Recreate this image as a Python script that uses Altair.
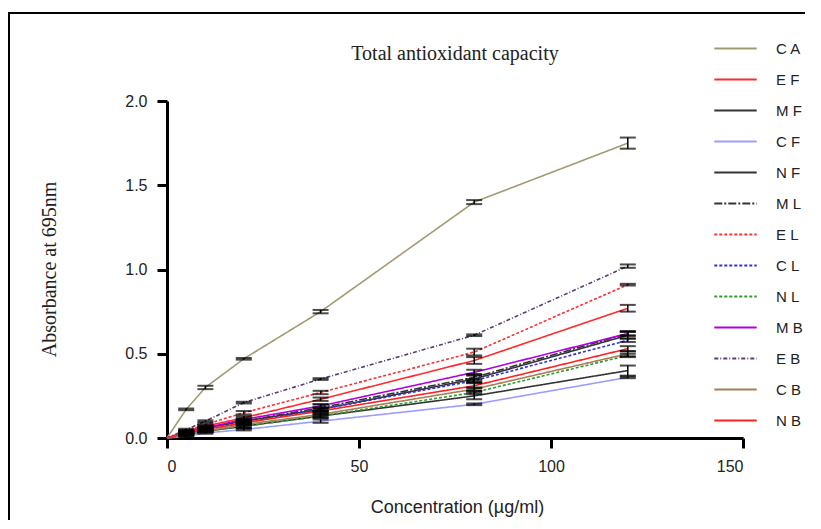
import altair as alt
import pandas as pd

conc = [0, 5, 10, 20, 40, 80, 120]
names = ["CA", "EF", "MF", "CF", "NF", "ML", "EL", "CL", "NL", "MB", "EB", "CB", "NB"]
title_text = ["Total antioxidant capacity"]

CA = [0, 0.17, 0.30, 0.47, 0.75, 1.40, 1.75]
EF = [0, 0.04, 0.07, 0.12, 0.23, 0.46, 0.77]
MF = [0, 0.03, 0.06, 0.10, 0.17, 0.35, 0.61]
CF = [0, 0.01, 0.03, 0.05, 0.10, 0.20, 0.36]
NF = [0, 0.02, 0.04, 0.07, 0.13, 0.25, 0.40]
ML = [0, 0.03, 0.06, 0.10, 0.18, 0.36, 0.62]
EL = [0, 0.04, 0.08, 0.15, 0.27, 0.51, 0.91]
CL = [0, 0.03, 0.05, 0.09, 0.17, 0.34, 0.58]
NL = [0, 0.02, 0.04, 0.07, 0.13, 0.27, 0.49]
MB = [0, 0.03, 0.06, 0.11, 0.19, 0.39, 0.62]
EB = [0, 0.05, 0.10, 0.21, 0.35, 0.61, 1.02]
CB = [0, 0.02, 0.04, 0.08, 0.14, 0.29, 0.50]
NB = [0, 0.03, 0.05, 0.09, 0.16, 0.31, 0.53]

CA_err = [0, 0.005, 0.01, 0.005, 0.01, 0.012, 0.033]
EF_err = [0, 0.005, 0.005, 0.01, 0.01, 0.02, 0.02]
MF_err = [0, 0.005, 0.005, 0.01, 0.01, 0.02, 0.02]
CF_err = [0, 0.005, 0.005, 0.005, 0.01, 0.005, 0.005]
NF_err = [0, 0.005, 0.005, 0.01, 0.01, 0.02, 0.03]
ML_err = [0, 0.005, 0.005, 0.01, 0.02, 0.02, 0.01]
EL_err = [0, 0.005, 0.005, 0.01, 0.01, 0.02, 0.005]
CL_err = [0, 0.005, 0.01, 0.01, 0.01, 0.01, 0.01]
NL_err = [0, 0.005, 0.005, 0.01, 0.01, 0.01, 0.01]
MB_err = [0, 0.005, 0.005, 0.01, 0.01, 0.015, 0.015]
EB_err = [0, 0.005, 0.005, 0.005, 0.005, 0.005, 0.01]
CB_err = [0, 0.005, 0.005, 0.01, 0.01, 0.01, 0.015]
NB_err = [0, 0.005, 0.005, 0.01, 0.01, 0.015, 0.015]

values = [CA, EF, MF, CF, NF, ML, EL, CL, NL, MB, EB, CB, NB]
errors = [CA_err, EF_err, MF_err, CF_err, NF_err, ML_err, EL_err, CL_err, NL_err,
          MB_err, EB_err, CB_err, NB_err]

colors = ["#A39A72", "#FF2B2B", "#333333", "#9D9DFF", "#333333", "#333333", "#FF3030",
          "#3030E0", "#2E9A2E", "#B000E0", "#5A3D78", "#A57F55", "#FF2020"]
dashes = [[1, 0], [1, 0], [1, 0], [1, 0], [1, 0], [8, 2, 2, 2], [3, 2], [3, 2], [3, 2],
          [1, 0], [4, 2, 1, 2], [1, 0], [1, 0]]

rows = []
for n, vals, errs in zip(names, values, errors):
    for c, v, e in zip(conc, vals, errs):
        rows.append({"series": n, "conc": c, "abs": v, "lo": v - e, "hi": v + e, "err": e})
df = pd.DataFrame(rows)

x_enc = alt.X("conc:Q", scale=alt.Scale(domain=[0, 150], nice=False),
              axis=alt.Axis(values=[0, 50, 100, 150], title="Concentration (µg/ml)",
                            titleFont="Liberation Sans", titleFontSize=18, titleFontWeight="normal",
                            titleColor="#222", titleX=290, titleY=74, titleBaseline="alphabetic",
                            labelFont="Liberation Sans", labelFontSize=16, labelColor="#222",
                            labelPadding=10, tickSize=10, tickWidth=3, tickColor="black",
                            domainWidth=3, domainColor="black", grid=False))
y_enc = alt.Y("abs:Q", scale=alt.Scale(domain=[0, 2], nice=False),
              axis=alt.Axis(values=[0, 0.5, 1.0, 1.5, 2.0], format=".1f",
                            title="Absorbance at 695nm", titleFont="Liberation Serif",
                            titleFontSize=20, titleFontWeight="normal", titleColor="#222",
                            titleX=-112, titleY=168, titleAngle=-90, titleAlign="center",
                            titleBaseline="alphabetic",
                            labelFont="Liberation Sans", labelFontSize=16, labelColor="#222",
                            labelPadding=10, tickSize=10, tickWidth=3, tickColor="black",
                            domainWidth=3, domainColor="black", grid=False))

color_scale = alt.Scale(domain=names, range=colors)
dash_scale = alt.Scale(domain=names, range=dashes)
legend = alt.Legend(title=None, orient="none", legendX=546, legendY=-75,
                    symbolType="stroke", symbolSize=1800, symbolStrokeWidth=2,
                    rowPadding=0, labelOffset=18, labelFont="Liberation Sans",
                    labelFontSize=15, labelColor="#222", labelLimit=0,
                    labelExpr="slice(datum.label,0,1) + ' ' + slice(datum.label,1)")

base = alt.Chart(df)

lines = base.mark_line(strokeWidth=1.6).encode(
    x=x_enc, y=y_enc,
    color=alt.Color("series:N", scale=color_scale, legend=legend, sort=names),
    strokeDash=alt.StrokeDash("series:N", scale=dash_scale, legend=legend, sort=names),
    order=alt.Order("conc:Q"),
)

eb = base.transform_filter("datum.err > 0")
rules = eb.mark_rule(color="black", strokeWidth=1.5).encode(
    x="conc:Q", y="lo:Q", y2="hi:Q")
caps_lo = eb.mark_tick(color="black", orient="horizontal", size=16, thickness=2).encode(
    x="conc:Q", y="lo:Q")
caps_hi = eb.mark_tick(color="black", orient="horizontal", size=16, thickness=2).encode(
    x="conc:Q", y="hi:Q")

border = alt.Chart(pd.DataFrame({"a": [0]})).mark_rect(
    filled=False, stroke="black", strokeWidth=2, fill=None).encode(
    x=alt.value(-158), x2=alt.value(1000), y=alt.value(-88), y2=alt.value(1000))

title = alt.Chart(pd.DataFrame({"t": title_text})).mark_text(
    font="Liberation Serif", fontSize=20, color="#222", baseline="alphabetic",
    align="center").encode(text="t:N", x=alt.value(288), y=alt.value(-41))

chart = alt.layer(border, title, lines, rules, caps_lo, caps_hi).properties(
    width=576, height=337,
    autosize=alt.AutoSizeParams(type="none"),
    padding={"left": 159, "top": 93, "right": 62, "bottom": 82},
).configure_view(stroke=None)

chart.save("out.html", embed_options={"renderer": "svg", "actions": False})
